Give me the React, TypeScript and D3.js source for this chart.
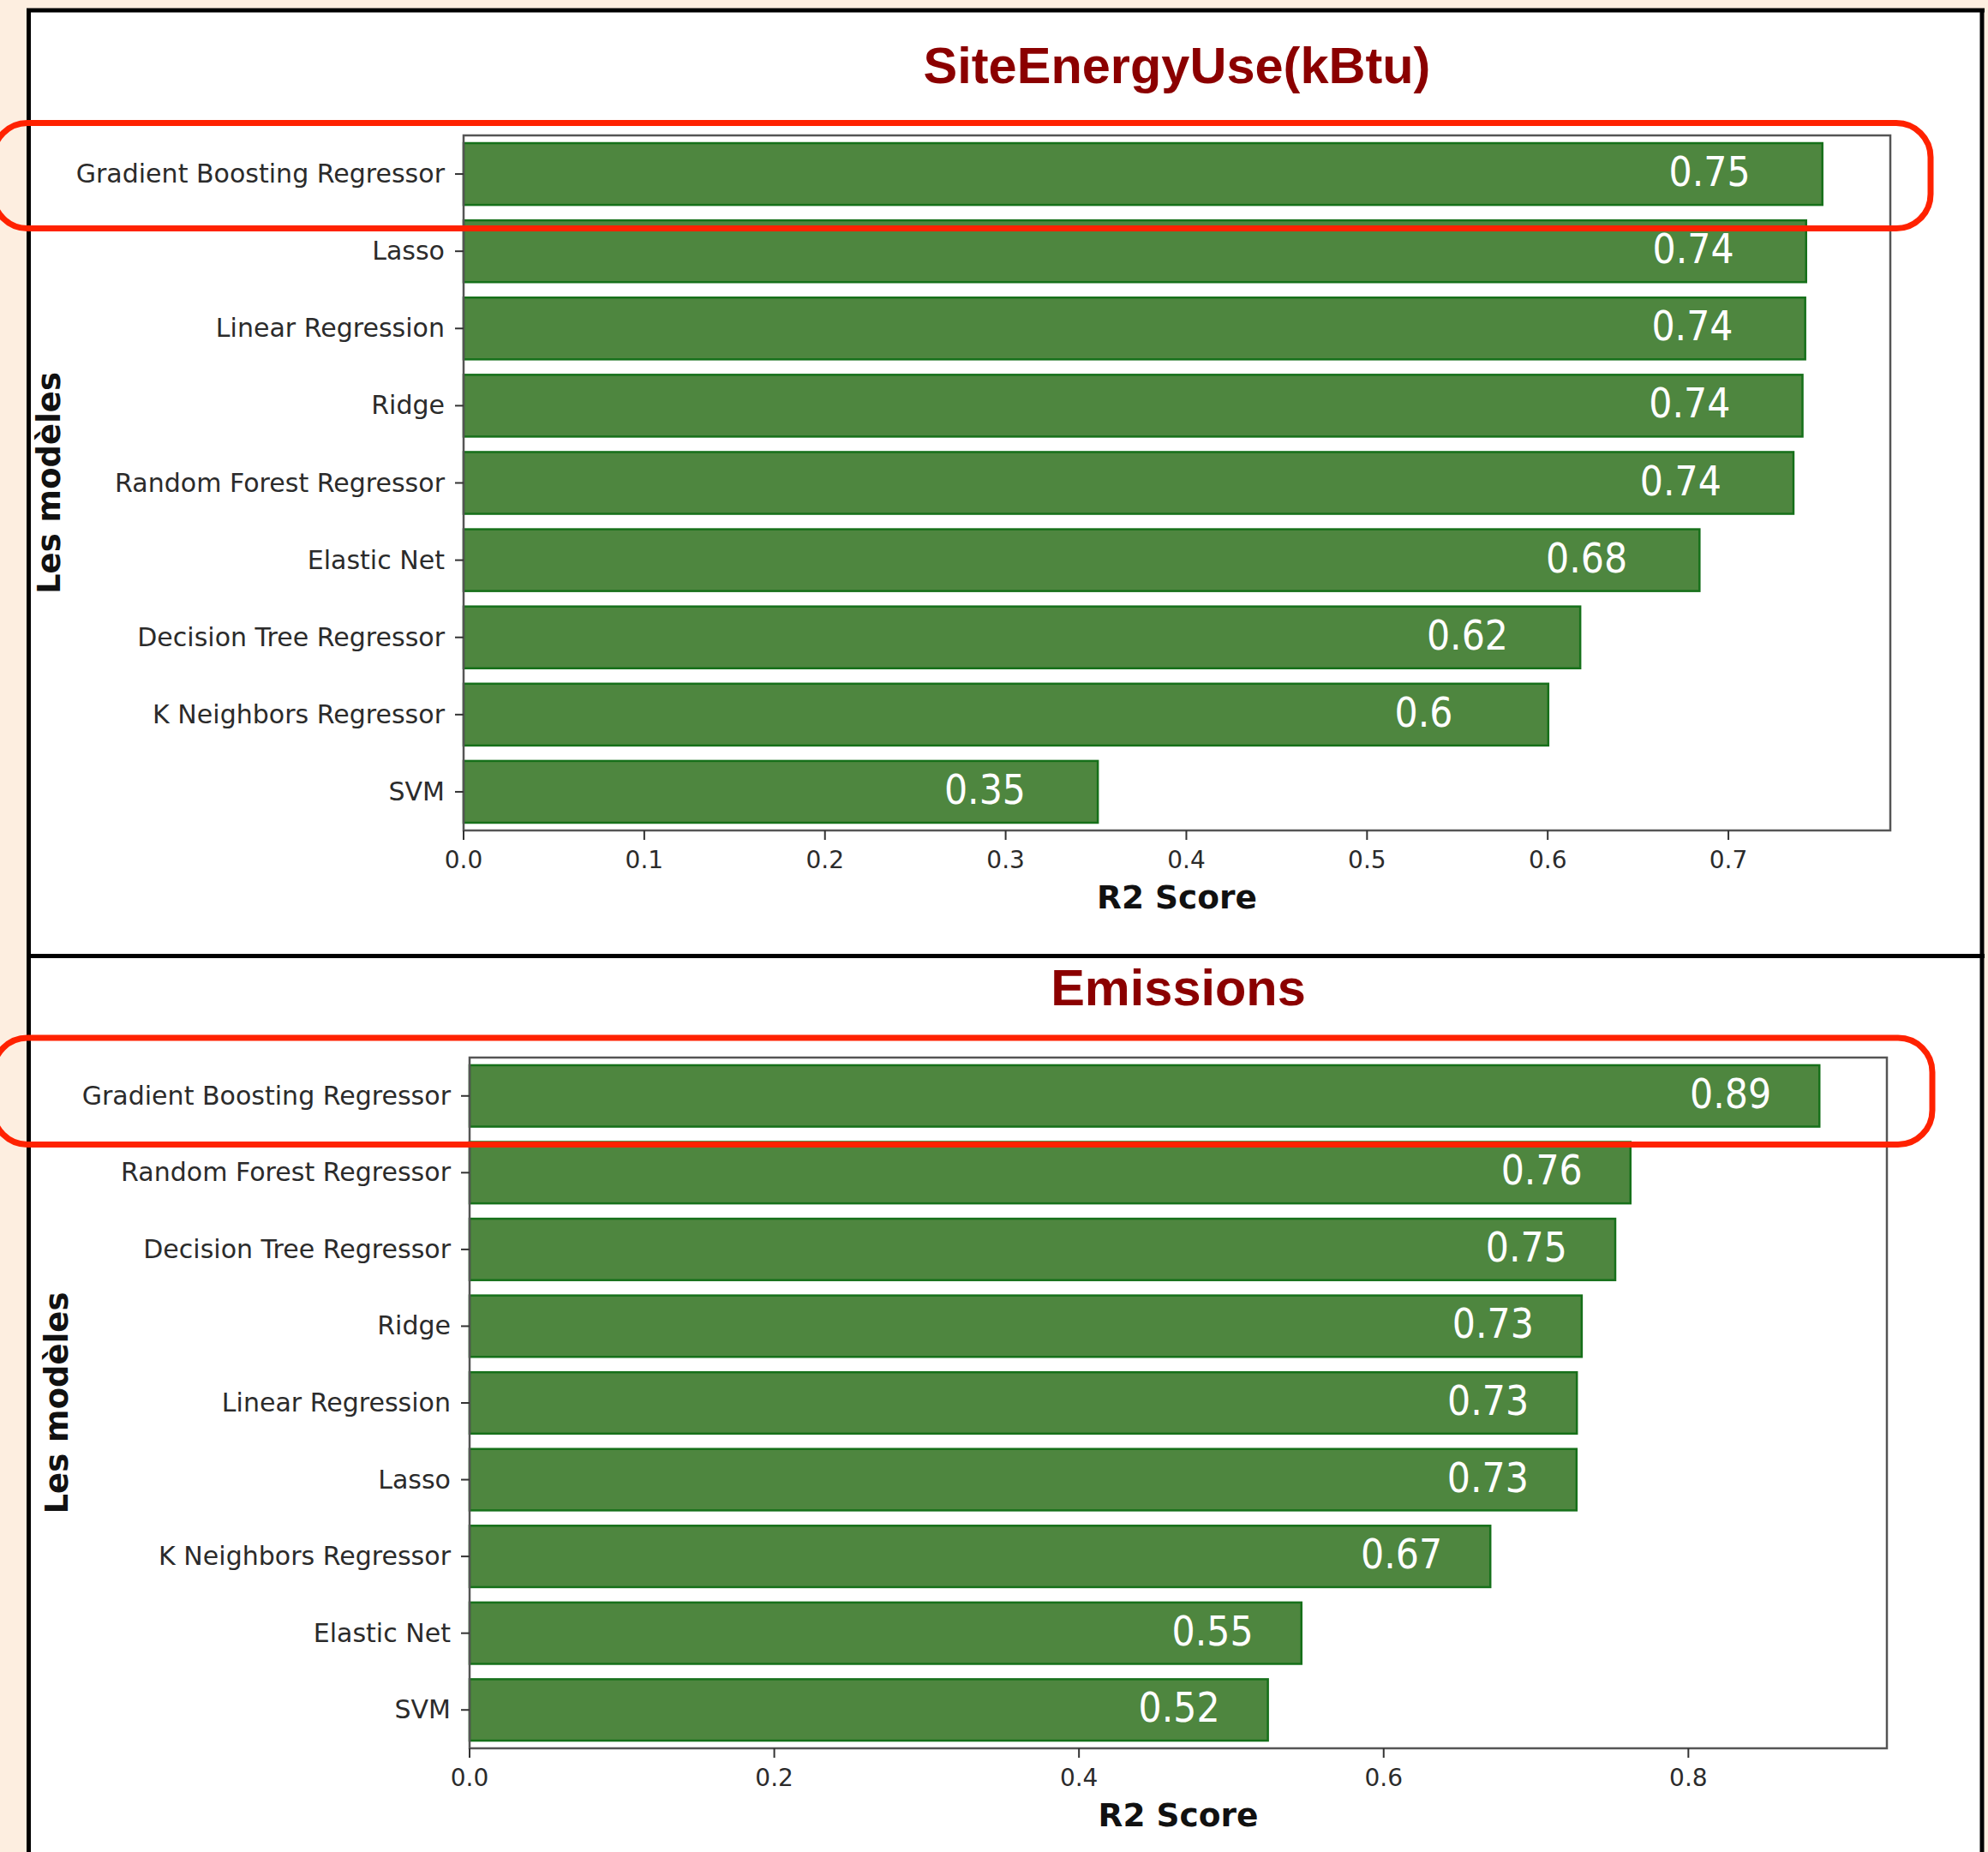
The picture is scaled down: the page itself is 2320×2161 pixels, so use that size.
import React from "react";
import * as d3 from "d3";

// R2 scores
const energyModels = [
  "Gradient Boosting Regressor",
  "Lasso",
  "Linear Regression",
  "Ridge",
  "Random Forest Regressor",
  "Elastic Net",
  "Decision Tree Regressor",
  "K Neighbors Regressor",
  "SVM",
];
const energyR2 = [0.752, 0.743, 0.7425, 0.741, 0.736, 0.684, 0.618, 0.6003, 0.351];
const energyTicks = [0, 0.1, 0.2, 0.3, 0.4, 0.5, 0.6, 0.7];

const emissionModels = [
  "Gradient Boosting Regressor",
  "Random Forest Regressor",
  "Decision Tree Regressor",
  "Ridge",
  "Linear Regression",
  "Lasso",
  "K Neighbors Regressor",
  "Elastic Net",
  "SVM",
];
const emissionR2 = [0.886, 0.762, 0.752, 0.73, 0.7268, 0.7266, 0.67, 0.546, 0.524];
const emissionTicks = [0, 0.2, 0.4, 0.6, 0.8];

const W = 2320;
const H = 2161;
const BAR_FILL = "#4e863f";
const BAR_EDGE = "#16701a";
const SANS = "'DejaVu Sans', sans-serif";

type PanelProps = {
  title: string;
  models: string[];
  values: number[];
  ticks: number[];
  left: number;
  right: number;
  top: number;
  bottom: number;
  titleY: number;
  xLabelY: number;
  yLabelX: number;
};

const Panel = ({ title, models, values, ticks, left, right, top, bottom, titleY, xLabelY, yLabelX }: PanelProps) => {
  const x = d3
    .scaleLinear()
    .domain([0, (d3.max(values) as number) * 1.05])
    .range([left, right]);
  const y = d3.scaleBand().domain(models).range([top, bottom]).paddingInner(0.2).paddingOuter(0.1);
  const fmt = d3.format(".1f");
  const cx = (left + right) / 2;

  return (
    <g>
      <text x={cx} y={titleY} textAnchor="middle" fontFamily="'Liberation Sans', Arial, sans-serif" fontWeight="bold" fontSize={59.5} fill="#8b0000">
        {title}
      </text>

      {/* bars */}
      {models.map((m, i) => (
        <rect
          key={m}
          x={x(0)}
          y={y(m)}
          width={x(values[i]) - x(0)}
          height={y.bandwidth()}
          fill={BAR_FILL}
          stroke={BAR_EDGE}
          strokeWidth={2.5}
        />
      ))}

      {/* value labels, inside the bar end */}
      {models.map((m, i) => {
        const yc = (y(m) as number) + y.bandwidth() / 2;
        return (
          <text
            key={m + "-v"}
            transform={`translate(${x(values[i] - 0.085)},${yc + 14}) scale(0.89,1)`}
            fontFamily={SANS}
            fontSize={48}
            fill="#ffffff"
          >
            {String(Math.round(values[i] * 100) / 100)}
          </text>
        );
      })}

      {/* axes frame */}
      <rect x={left} y={top} width={right - left} height={bottom - top} fill="none" stroke="#555" strokeWidth={2.5} />

      {/* y ticks */}
      {models.map((m) => {
        const yc = (y(m) as number) + y.bandwidth() / 2;
        return (
          <g key={m + "-t"}>
            <line x1={left - 10} x2={left} y1={yc} y2={yc} stroke="#333" strokeWidth={2} />
            <text
              transform={`translate(${left - 22},${yc + 10}) scale(0.985,1)`}
              textAnchor="end"
              fontFamily={SANS}
              fontSize={30.5}
              fill="#2b2b2b"
            >
              {m}
            </text>
          </g>
        );
      })}

      {/* x ticks */}
      {ticks.map((t) => (
        <g key={t}>
          <line x1={x(t)} x2={x(t)} y1={bottom} y2={bottom + 11} stroke="#333" strokeWidth={2} />
          <text x={x(t)} y={bottom + 44} textAnchor="middle" fontFamily={SANS} fontSize={28} fill="#2b2b2b">
            {fmt(t)}
          </text>
        </g>
      ))}

      <text x={cx} y={xLabelY} textAnchor="middle" fontFamily={SANS} fontWeight="bold" fontSize={37.5} fill="#111">
        R2 Score
      </text>
      <text
        transform={`translate(${yLabelX},${(top + bottom) / 2}) rotate(-90)`}
        textAnchor="middle"
        fontFamily={SANS}
        fontWeight="bold"
        fontSize={37}
        fill="#111"
      >
        Les modèles
      </text>
    </g>
  );
};

export default function App() {
  return (
    <svg width={W} height={H} style={{ position: "absolute", left: 0, top: 0, display: "block" }}>
      <rect x={0} y={0} width={W} height={H} fill="#fdeee0" />
      <rect x={33} y={12} width={2280} height={H} fill="#ffffff" />

      <Panel
        title="SiteEnergyUse(kBtu)"
        models={energyModels}
        values={energyR2}
        ticks={energyTicks}
        left={541}
        right={2206}
        top={158}
        bottom={969}
        titleY={97}
        xLabelY={1060}
        yLabelX={70}
      />
      <Panel
        title="Emissions"
        models={emissionModels}
        values={emissionR2}
        ticks={emissionTicks}
        left={548}
        right={2202}
        top={1234}
        bottom={2040}
        titleY={1173}
        xLabelY={2131}
        yLabelX={79}
      />

      {/* notebook cell frame */}
      <g stroke="#000" strokeWidth={5} fill="none">
        <line x1={33.5} x2={33.5} y1={10} y2={H} />
        <line x1={2313} x2={2313} y1={10} y2={H} />
        <line x1={31} x2={2316} y1={12} y2={12} />
        <line x1={31} x2={2316} y1={1115.5} y2={1115.5} />
      </g>

      {/* red highlight boxes around the best model */}
      <g stroke="#ff2200" strokeWidth={7} fill="none">
        <rect x={-8} y={143.5} width={2261} height={123} rx={40} ry={40} />
        <rect x={-8} y={1211} width={2263} height={124.5} rx={40} ry={40} />
      </g>
    </svg>
  );
}
